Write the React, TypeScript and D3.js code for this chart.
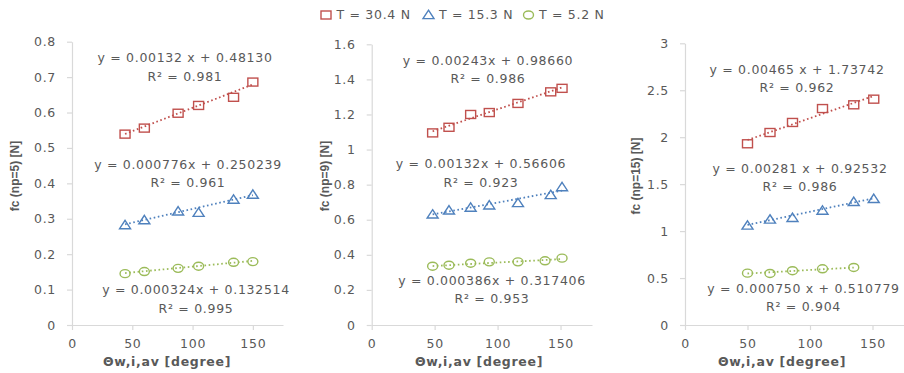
import React, { useRef, useEffect } from "react";
import * as d3 from "d3";

// ---- data ----
const seriesNames = ["T = 30.4 N", "T = 15.3 N", "T = 5.2 N"];
const seriesColors = ["#C0504D", "#4F81BD", "#9BBB59"];
const seriesShapes = ["square", "triangle", "circle"];

const xTicks = [0, 50, 100, 150];

// panel 1 (np=5)
const p1RedX = [44, 60, 88, 105, 134, 150];
const p1Red = [0.539, 0.556, 0.598, 0.62, 0.643, 0.686];
const p1BlueX = [44, 60, 88, 105, 134, 150];
const p1Blue = [0.282, 0.296, 0.321, 0.317, 0.354, 0.368];
const p1GreenX = [44, 60, 88, 105, 134, 150];
const p1Green = [0.145, 0.151, 0.16, 0.166, 0.177, 0.179];
const p1Slope = [0.00132, 0.000776, 0.000324];
const p1Intercept = [0.4813, 0.250239, 0.132514];
const p1Eq = ["y = 0.00132 x + 0.48130", "y = 0.000776x + 0.250239", "y = 0.000324x + 0.132514"];
const p1R2 = ["R² = 0.981", "R² = 0.961", "R² = 0.995"];

// panel 2 (np=9)
const p2RedX = [48.4, 61.4, 78.6, 93.4, 116.2, 142.2, 151.2];
const p2Red = [1.095, 1.127, 1.2, 1.211, 1.263, 1.329, 1.349];
const p2BlueX = [48.4, 61.4, 78.6, 93.4, 116.2, 142.2, 151.2];
const p2Blue = [0.63, 0.653, 0.669, 0.682, 0.695, 0.741, 0.786];
const p2GreenX = [48.4, 61.4, 78.6, 93.4, 116.2, 137.7, 151.2];
const p2Green = [0.335, 0.341, 0.352, 0.36, 0.36, 0.366, 0.381];
const p2Slope = [0.00243, 0.00132, 0.000386];
const p2Intercept = [0.9866, 0.56606, 0.317406];
const p2Eq = ["y = 0.00243x + 0.98660", "y = 0.00132x + 0.56606", "y = 0.000386x + 0.317406"];
const p2R2 = ["R² = 0.986", "R² = 0.923", "R² = 0.953"];

// panel 3 (np=15)
const p3RedX = [50, 68, 86, 110, 135, 151];
const p3Red = [1.93, 2.05, 2.157, 2.305, 2.345, 2.405];
const p3BlueX = [50, 68, 86, 110, 135, 151];
const p3Blue = [1.059, 1.123, 1.141, 1.218, 1.311, 1.343];
const p3GreenX = [50, 68, 86, 110, 135];
const p3Green = [0.552, 0.549, 0.578, 0.599, 0.613];
const p3Slope = [0.00465, 0.00281, 0.00075];
const p3Intercept = [1.73742, 0.92532, 0.510779];
const p3Eq = ["y = 0.00465 x + 1.73742", "y = 0.00281 x + 0.92532", "y = 0.000750 x + 0.510779"];
const p3R2 = ["R² = 0.962", "R² = 0.986", "R² = 0.904"];

interface PanelDef {
  yLabel: string;
  yMax: number;
  yStep: number;
  xs: number[][];
  ys: number[][];
  slope: number[];
  intercept: number[];
  eq: string[];
  r2: string[];
  // layout
  left: number;
  right: number;
  top: number;
  bottom: number;
  eqPos: [number, number][];
  xTitleX: number;
  yTitleX: number;
}

const panels: PanelDef[] = [
  {
    yLabel: "fc (np=5) [N]", yMax: 0.8, yStep: 0.1,
    xs: [p1RedX, p1BlueX, p1GreenX], ys: [p1Red, p1Blue, p1Green],
    slope: p1Slope, intercept: p1Intercept, eq: p1Eq, r2: p1R2,
    left: 72, right: 283, top: 41.7, bottom: 325,
    eqPos: [[185, 58], [188, 164.7], [196, 290]],
    xTitleX: 167, yTitleX: 15,
  },
  {
    yLabel: "fc (np=9) [N]", yMax: 1.6, yStep: 0.2,
    xs: [p2RedX, p2BlueX, p2GreenX], ys: [p2Red, p2Blue, p2Green],
    slope: p2Slope, intercept: p2Intercept, eq: p2Eq, r2: p2R2,
    left: 371.7, right: 592, top: 44.3, bottom: 325,
    eqPos: [[488, 60.7], [481, 164], [492, 280.7]],
    xTitleX: 479, yTitleX: 325,
  },
  {
    yLabel: "fc (np=15) [N]", yMax: 3, yStep: 0.5,
    xs: [p3RedX, p3BlueX, p3GreenX], ys: [p3Red, p3Blue, p3Green],
    slope: p3Slope, intercept: p3Intercept, eq: p3Eq, r2: p3R2,
    left: 685, right: 903.75, top: 43.3, bottom: 325,
    eqPos: [[797, 69.3], [800, 168.3], [803.5, 288.3]],
    xTitleX: 782, yTitleX: 636,
  },
];

const width = 904;
const height = 373;
const textColor = "#595959";
const axisColor = "#D9D9D9";
const font = "'DejaVu Sans', sans-serif";

function drawMarker(g: d3.Selection<SVGGElement, unknown, null, undefined>, shape: string, x: number, y: number, color: string) {
  if (shape === "square") {
    g.append("rect").attr("x", x - 5).attr("y", y - 4).attr("width", 10).attr("height", 8)
      .attr("fill", "none").attr("stroke", color).attr("stroke-width", 1.4);
  } else if (shape === "triangle") {
    g.append("path").attr("d", `M${x},${y - 4.8}L${x + 5.5},${y + 3.6}L${x - 5.5},${y + 3.6}Z`)
      .attr("fill", "none").attr("stroke", color).attr("stroke-width", 1.4);
  } else {
    g.append("ellipse").attr("cx", x).attr("cy", y).attr("rx", 5).attr("ry", 4)
      .attr("fill", "none").attr("stroke", color).attr("stroke-width", 1.4);
  }
}

const App: React.FC = () => {
  const svgRef = useRef<SVGSVGElement>(null);

  useEffect(() => {
    const svg = d3.select(svgRef.current);
    svg.selectAll("*").remove();
    svg.append("rect").attr("width", width).attr("height", height).attr("fill", "#fff");

    panels.forEach(p => {
      const x = d3.scaleLinear().domain([0, 175]).range([p.left, p.right]);
      const y = d3.scaleLinear().domain([0, p.yMax]).range([p.bottom, p.top]);
      const yTicks = d3.range(0, p.yMax + p.yStep / 2, p.yStep).map(v => +v.toFixed(2));

      // y axis
      const yAxis = svg.append("g")
        .attr("transform", `translate(${p.left},0)`)
        .call(d3.axisLeft(y).tickValues(yTicks).tickSize(5).tickSizeOuter(0).tickPadding(11)
          .tickFormat(d => String(+(+d).toFixed(2))));
      // x axis
      const xAxis = svg.append("g")
        .attr("transform", `translate(0,${p.bottom})`)
        .call(d3.axisBottom(x).tickValues(xTicks).tickSize(5).tickSizeOuter(0).tickPadding(9.6));

      [yAxis, xAxis].forEach(a => {
        a.select(".domain").attr("stroke", axisColor).attr("stroke-width", 1.2);
        a.selectAll(".tick line").attr("stroke", axisColor).attr("stroke-width", 1.2);
        a.selectAll(".tick text").attr("fill", textColor).attr("font-size", 12.5)
          .attr("font-family", font).attr("letter-spacing", 0.7);
      });

      // axis titles
      svg.append("text")
        .attr("transform", `translate(${p.yTitleX},${176}) rotate(-90)`)
        .attr("text-anchor", "middle").attr("dy", "0.35em")
        .attr("font-family", "'Liberation Sans', Arial, sans-serif").attr("font-weight", "bold")
        .attr("font-size", 12).attr("fill", textColor)
        .text(p.yLabel);
      svg.append("text")
        .attr("x", p.xTitleX).attr("y", 362).attr("dy", "0.35em")
        .attr("text-anchor", "middle")
        .attr("font-family", font).attr("font-weight", "bold")
        .attr("font-size", 12.5).attr("letter-spacing", 0.7).attr("fill", textColor)
        .text("Θw,i,av [degree]");

      // series
      p.xs.forEach((xs, si) => {
        const color = seriesColors[si];
        const g = svg.append("g");
        const x0 = d3.min(xs) as number;
        const x1 = d3.max(xs) as number;
        const line = d3.line<number>()
          .x(d => x(d))
          .y(d => y(p.slope[si] * d + p.intercept[si]));
        g.append("path")
          .attr("d", line([x0, x1]))
          .attr("fill", "none").attr("stroke", color).attr("stroke-width", 1.8)
          .attr("stroke-dasharray", "1.6 2.6");
        xs.forEach((xv, i) => drawMarker(g, seriesShapes[si], x(xv), y(p.ys[si][i]), color));

        const [ex, ey] = p.eqPos[si];
        svg.append("text")
          .attr("x", ex).attr("y", ey).attr("dy", "0.35em").attr("text-anchor", "middle")
          .attr("font-family", font).attr("font-size", 12.5).attr("letter-spacing", 0.7)
          .attr("fill", textColor).text(p.eq[si]);
        svg.append("text")
          .attr("x", ex).attr("y", ey + 18.3).attr("dy", "0.35em").attr("text-anchor", "middle")
          .attr("font-family", font).attr("font-size", 12.5).attr("letter-spacing", 0.7)
          .attr("fill", textColor).text(p.r2[si]);
      });
    });

    // legend
    const legendX = [326, 428.5, 528.5];
    const legend = svg.append("g");
    seriesNames.forEach((name, i) => {
      drawMarker(legend as any, seriesShapes[i], legendX[i], 15, seriesColors[i]);
      legend.append("text")
        .attr("x", legendX[i] + 10.5).attr("y", 15).attr("dy", "0.35em")
        .attr("font-family", font).attr("font-size", 12.5).attr("letter-spacing", 0.7)
        .attr("fill", textColor).text(name);
    });
  }, []);

  return (
    <svg
      ref={svgRef}
      width={width}
      height={height}
      style={{ position: "absolute", left: 0, top: 0 }}
    />
  );
};

export default App;
